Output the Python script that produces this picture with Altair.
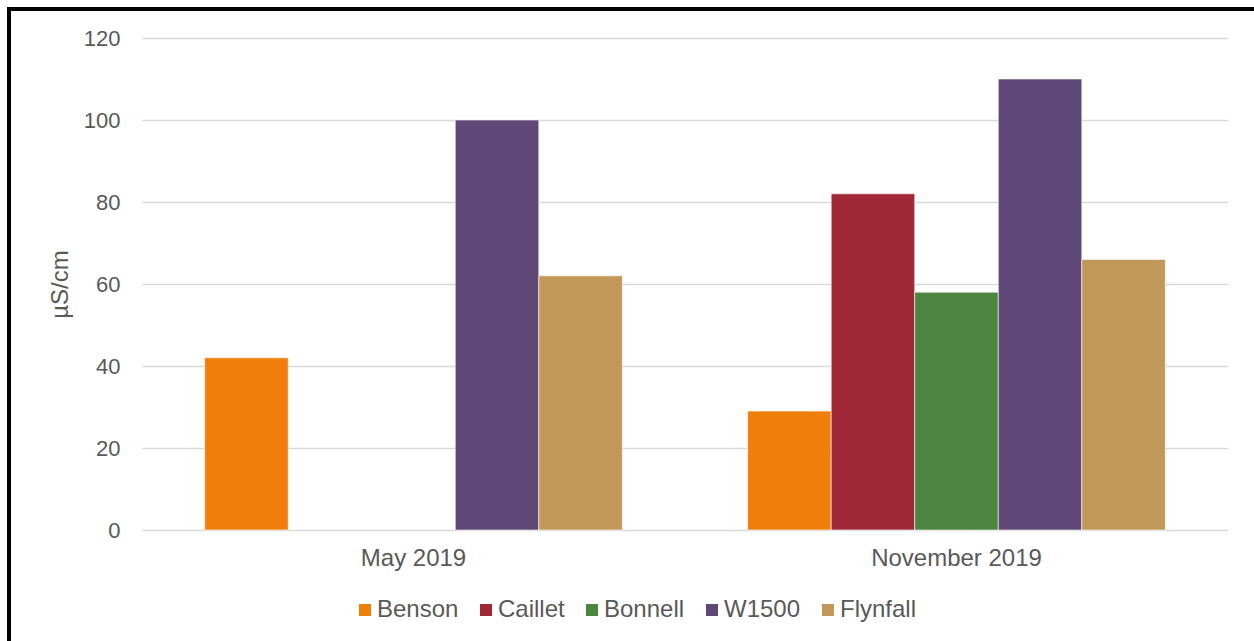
import altair as alt
import pandas as pd

periods = ["May 2019", "November 2019"]
sites = ["Benson", "Caillet", "Bonnell", "W1500", "Flynfall"]
colors = ["#EF7F0A", "#A12836", "#4C8540", "#5F4878", "#C29858"]
may_values = [42, None, None, 100, 62]
nov_values = [29, 82, 58, 110, 66]
y_ticks = [0, 20, 40, 60, 80, 100, 120]

rows = []
for site, v in zip(sites, may_values):
    if v is not None:
        rows.append({"period": periods[0], "site": site, "value": v})
for site, v in zip(sites, nov_values):
    if v is not None:
        rows.append({"period": periods[1], "site": site, "value": v})
df = pd.DataFrame(rows)

FONT = "Liberation Sans"
GREY = "#595959"

bars = alt.Chart(df).mark_bar(stroke="white", strokeWidth=0.6).encode(
    x=alt.X("period:N", sort=periods,
            scale=alt.Scale(paddingInner=0, paddingOuter=0),
            axis=alt.Axis(title=None, labelAngle=0, ticks=False, domain=False,
                          labelFontSize=24, labelColor=GREY, labelFont=FONT,
                          labelPadding=16)),
    xOffset=alt.XOffset("site:N", sort=sites,
                        scale=alt.Scale(paddingInner=0, paddingOuter=0.75)),
    y=alt.Y("value:Q",
            scale=alt.Scale(domain=[0, 120], nice=False),
            axis=alt.Axis(title="µS/cm", values=y_ticks, ticks=False, domain=False,
                          labelFontSize=22, labelColor=GREY, labelFont=FONT,
                          labelPadding=22, titleFontSize=24, titleColor=GREY,
                          titleFont=FONT, titleFontWeight="normal", titlePadding=11,
                          gridColor="#D9D9D9", gridWidth=1.5)),
    color=alt.Color("site:N", sort=sites,
                    scale=alt.Scale(domain=sites, range=colors),
                    legend=alt.Legend(title=None, orient="none", direction="horizontal",
                                      legendX=211, legendY=560,
                                      symbolType="square", symbolSize=144,
                                      symbolStrokeWidth=0,
                                      labelFontSize=24, labelColor=GREY, labelFont=FONT,
                                      labelOffset=0, columnPadding=15)),
)

top_border = alt.Chart(df).mark_rule(color="black", strokeWidth=4).encode(
    x=alt.value(-133), x2=alt.value(1130), y=alt.value(-29)
)
left_border = alt.Chart(df).mark_rule(color="black", strokeWidth=4).encode(
    x=alt.value(-133), y=alt.value(-31), y2=alt.value(620)
)

chart = alt.layer(bars, top_border, left_border).properties(
    width=1086, height=492,
    autosize=alt.AutoSizeParams(type="none"),
    padding={"left": 142, "top": 38, "right": 26, "bottom": 111},
    background="white",
).configure_view(stroke=None)

chart.save("out.html", embed_options={"renderer": "svg", "actions": False})
